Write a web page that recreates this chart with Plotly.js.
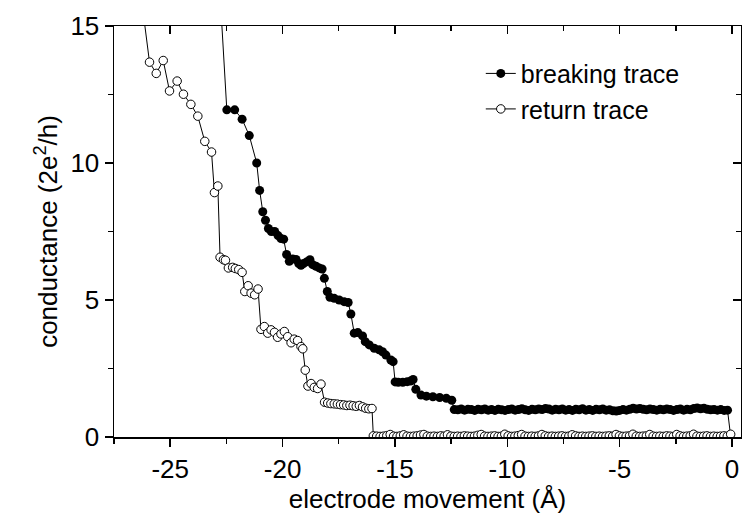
<!DOCTYPE html>
<html>
<head>
<meta charset="utf-8">
<script src="https://cdn.plot.ly/plotly-3.0.1.min.js"></script>
<style>html,body{margin:0;padding:0;background:#fff;}#chart{width:742px;height:522px;}</style>
</head>
<body>
<div id="chart"></div>
<script>
// ---- data ----
const seriesNames = ["breaking trace", "return trace"];

const breakingX = [-22.77, -22.48, -22.13, -21.80, -21.48, -21.15, -21.02, -20.88, -20.76, -20.63, -20.50, -20.35, -20.20, -20.07, -19.95,
  -19.82, -19.70, -19.55, -19.40, -19.28, -19.18, -19.07, -18.91, -18.78, -18.66, -18.51, -18.37, -18.24, -18.14, -18.01, -17.89,
  -17.70, -17.48, -17.26, -17.08, -16.96, -16.81, -16.65, -16.44, -16.32, -16.14, -15.92, -15.70, -15.55, -15.40, -15.18, -15.08,
  -14.99, -14.85, -14.65, -14.45, -14.30, -14.19, -14.07, -13.84, -13.60, -13.31, -13.01, -12.71, -12.47, -12.36,
  -12.2, -12.05, -11.9, -11.75, -11.6, -11.45, -11.3, -11.15, -11.0, -10.85, -10.7, -10.55, -10.4, -10.25, -10.1, -9.95, -9.8, -9.65,
  -9.5, -9.35, -9.2, -9.05, -8.9, -8.75, -8.6, -8.45, -8.3, -8.15, -8.0, -7.85, -7.7, -7.55, -7.4, -7.25, -7.1, -6.95, -6.8, -6.65,
  -6.5, -6.35, -6.2, -6.05, -5.9, -5.75, -5.6, -5.45, -5.3, -5.15, -5.0, -4.85, -4.7, -4.55, -4.4, -4.25, -4.1, -3.95, -3.8, -3.65,
  -3.5, -3.35, -3.2, -3.05, -2.9, -2.75, -2.6, -2.45, -2.3, -2.15, -2.0, -1.85, -1.7, -1.55, -1.4, -1.25, -1.1, -0.95, -0.8, -0.65,
  -0.5, -0.35, -0.2, -0.02];
const breakingY = [16.0, 11.94, 11.94, 11.60, 11.00, 10.00, 9.00, 8.22, 7.91, 7.61, 7.50, 7.50, 7.35, 7.24, 7.22,
  6.66, 6.41, 6.50, 6.48, 6.33, 6.27, 6.33, 6.40, 6.47, 6.29, 6.23, 6.17, 6.13, 5.79, 5.31, 5.10,
  5.06, 5.00, 4.94, 4.91, 4.49, 3.79, 3.81, 3.69, 3.48, 3.36, 3.24, 3.18, 3.11, 2.99, 2.81, 2.75,
  2.01, 2.00, 2.00, 2.02, 2.04, 2.10, 1.74, 1.53, 1.49, 1.47, 1.44, 1.41, 1.34, 1.00,
  0.99, 1.02, 0.98, 1.01, 1.00, 0.97, 1.01, 0.99, 1.02, 0.98, 1.00, 0.97, 1.01, 0.99, 0.97, 1.00, 1.02, 0.98,
  1.00, 1.03, 0.99, 0.97, 1.01, 0.99, 1.02, 1.00, 1.04, 1.02, 0.98, 1.01, 0.99, 1.02, 0.98, 1.00, 0.97, 1.01, 0.99, 1.03,
  0.98, 1.00, 0.97, 1.01, 0.99, 1.02, 0.98, 0.99, 0.96, 0.95, 0.97, 1.00, 0.98, 1.01, 1.05, 1.02, 1.04, 1.01, 0.99, 1.02,
  1.00, 0.98, 1.01, 0.99, 1.02, 1.00, 0.97, 1.00, 1.02, 0.98, 1.01, 0.99, 1.04, 1.06, 1.03, 1.05, 1.01, 0.99, 1.00, 0.98,
  1.00, 0.97, 0.98, -0.25];

const returnX = [-26.28, -25.92, -25.62, -25.31, -25.03, -24.69, -24.41, -24.08, -23.77, -23.46, -23.16, -23.03, -22.88,
  -22.78, -22.63, -22.54, -22.41, -22.22, -22.10, -21.95, -21.80, -21.68, -21.53, -21.40, -21.24, -21.09,
  -20.96, -20.81, -20.66, -20.51, -20.36, -20.22, -20.07, -19.92, -19.77, -19.62, -19.48, -19.33, -19.18, -19.10,
  -18.99, -18.87, -18.73, -18.59, -18.44, -18.29,
  -18.13, -17.99, -17.85, -17.70, -17.56, -17.42, -17.28, -17.14, -17.00, -16.86, -16.72, -16.58, -16.44, -16.30, -16.16, -16.02,
  -15.96, -15.81, -15.66, -15.51, -15.36, -15.21, -15.06, -14.91, -14.76, -14.61, -14.46, -14.31, -14.16, -14.01, -13.86, -13.71,
  -13.56, -13.41, -13.26, -13.11, -12.96, -12.81, -12.66, -12.51, -12.36, -12.21, -12.06, -11.91, -11.76, -11.61, -11.46, -11.31,
  -11.16, -11.01, -10.86, -10.71, -10.56, -10.41, -10.26, -10.11, -9.96, -9.81, -9.66, -9.51, -9.36, -9.21, -9.06, -8.91,
  -8.76, -8.61, -8.46, -8.31, -8.16, -8.01, -7.86, -7.71, -7.56, -7.41, -7.26, -7.11, -6.96, -6.81, -6.66, -6.51,
  -6.36, -6.21, -6.06, -5.91, -5.76, -5.61, -5.46, -5.31, -5.16, -5.01, -4.86, -4.71, -4.56, -4.41, -4.26, -4.11,
  -3.96, -3.81, -3.66, -3.51, -3.36, -3.21, -3.06, -2.91, -2.76, -2.61, -2.46, -2.31, -2.16, -2.01, -1.86, -1.71,
  -1.56, -1.41, -1.26, -1.11, -0.96, -0.81, -0.66, -0.51, -0.36, -0.21, -0.06];
const returnY = [16.0, 13.68, 13.27, 13.74, 12.63, 12.99, 12.51, 12.14, 11.71, 10.79, 10.40, 8.92, 9.16,
  6.56, 6.47, 6.45, 6.17, 6.19, 6.15, 6.11, 6.01, 5.31, 5.52, 5.25, 5.19, 5.40,
  3.93, 4.03, 3.79, 3.91, 3.82, 3.64, 3.76, 3.85, 3.66, 3.44, 3.57, 3.52, 3.30, 3.22,
  2.44, 1.86, 1.95, 1.81, 1.77, 1.93,
  1.27, 1.24, 1.22, 1.21, 1.20, 1.18, 1.17, 1.15, 1.16, 1.14, 1.12, 1.15, 1.10, 1.05, 1.03, 1.04,
  0.04, 0.03, 0.02, 0.03, 0.05, 0.09, 0.03, 0.02, 0.04, 0.08, 0.03, 0.02, 0.03, 0.04, 0.07, 0.09,
  0.03, 0.02, 0.03, 0.02, 0.04, 0.03, 0.08, 0.03, 0.02, 0.03, 0.02, 0.04, 0.03, 0.02, 0.03, 0.06,
  0.09, 0.03, 0.02, 0.03, 0.04, 0.02, 0.03, 0.10, 0.04, 0.02, 0.03, 0.05, 0.09, 0.03, 0.02, 0.03,
  0.02, 0.04, 0.09, 0.04, 0.02, 0.03, 0.02, 0.03, 0.04, 0.02, 0.03, 0.08, 0.04, 0.02, 0.03, 0.02,
  0.03, 0.04, 0.02, 0.03, 0.02, 0.03, 0.04, 0.03, 0.09, 0.04, 0.02, 0.03, 0.04, 0.10, 0.03, 0.02,
  0.03, 0.04, 0.09, 0.03, 0.02, 0.03, 0.02, 0.04, 0.03, 0.02, 0.09, 0.04, 0.02, 0.03, 0.04, 0.10,
  0.03, 0.02, 0.03, 0.04, 0.02, 0.03, 0.02, 0.03, 0.04, 0.03, 0.10];

const xRange = [-27.5, 0.4];
const yRange = [0, 15];
const xTickVals = [-25, -20, -15, -10, -5, 0];
const xTickText = ["-25", "-20", "-15", "-10", "-5", "0"];
const xMinorVals = [-27.5, -22.5, -17.5, -12.5, -7.5, -2.5];
const yTickVals = [0, 5, 10, 15];
const yTickText = ["0", "5", "10", "15"];
const yMinorVals = [2.5, 7.5, 12.5];
const xTitle = "electrode movement (Å)";
const yTitle = "conductance (2e<sup>2</sup>/h)";

// ---- chart ----
const FONT = "Liberation Sans, Arial, sans-serif";

const traces = [
  {
    x: breakingX, y: breakingY, name: seriesNames[0], type: "scatter", mode: "lines+markers",
    line: {color: "#000", width: 1},
    marker: {symbol: "circle", size: 9, color: "#000", line: {width: 0}}
  },
  {
    x: returnX, y: returnY, name: seriesNames[1], type: "scatter", mode: "lines+markers",
    line: {color: "#000", width: 1},
    marker: {symbol: "circle", size: 8.5, color: "#fff", line: {color: "#000", width: 1}}
  },
  { x: [], y: [], xaxis: "x2", yaxis: "y2", showlegend: false, hoverinfo: "skip", type: "scatter", mode: "markers" }
];

const axisCommon = {
  showgrid: false, zeroline: false, color: "#000",
  tickfont: {family: FONT, size: 26, color: "#000"},
  tickwidth: 1.5, tickcolor: "#000", tickmode: "array"
};
const minorOut = (vals) => ({tickvals: vals, ticks: "outside", ticklen: 5, tickwidth: 1.5, tickcolor: "#000"});
const minorIn = (vals) => ({tickvals: vals, ticks: "inside", ticklen: 5, tickwidth: 1.5, tickcolor: "#000"});

const layout = {
  width: 742, height: 522,
  margin: {l: 114, r: 1, t: 26, b: 85, pad: 0},
  paper_bgcolor: "#fff", plot_bgcolor: "#fff",
  font: {family: FONT, color: "#000"},
  showlegend: true,
  legend: {
    x: 0.585, y: 0.94, xanchor: "left", yanchor: "top",
    bgcolor: "rgba(0,0,0,0)", borderwidth: 0,
    font: {family: FONT, size: 25, color: "#000"},
    tracegroupgap: 0
  },
  xaxis: Object.assign({}, axisCommon, {
    range: xRange, tickvals: xTickVals, ticktext: xTickText,
    ticks: "outside", ticklen: 8, minor: minorOut(xMinorVals),
    showline: true, linewidth: 1.5, linecolor: "#000", mirror: true,
    title: {text: xTitle, font: {family: FONT, size: 26, color: "#000"}, standoff: 7}
  }),
  yaxis: Object.assign({}, axisCommon, {
    range: yRange, tickvals: yTickVals, ticktext: yTickText,
    ticks: "outside", ticklen: 8, minor: minorOut(yMinorVals),
    showline: true, linewidth: 1.5, linecolor: "#000", mirror: true,
    title: {text: yTitle, font: {family: FONT, size: 26, color: "#000"}, standoff: 5}
  }),
  xaxis2: Object.assign({}, axisCommon, {
    overlaying: "x", side: "top", anchor: "y", range: xRange, tickvals: xTickVals, ticktext: xTickText,
    ticks: "inside", ticklen: 8, showticklabels: false, showline: false, minor: minorIn(xMinorVals)
  }),
  yaxis2: Object.assign({}, axisCommon, {
    overlaying: "y", side: "right", anchor: "x", range: yRange, tickvals: yTickVals, ticktext: yTickText,
    ticks: "inside", ticklen: 8, showticklabels: false, showline: false, minor: minorIn(yMinorVals)
  })
};

Plotly.newPlot("chart", traces, layout, {staticPlot: true, displayModeBar: false});
</script>
</body>
</html>
